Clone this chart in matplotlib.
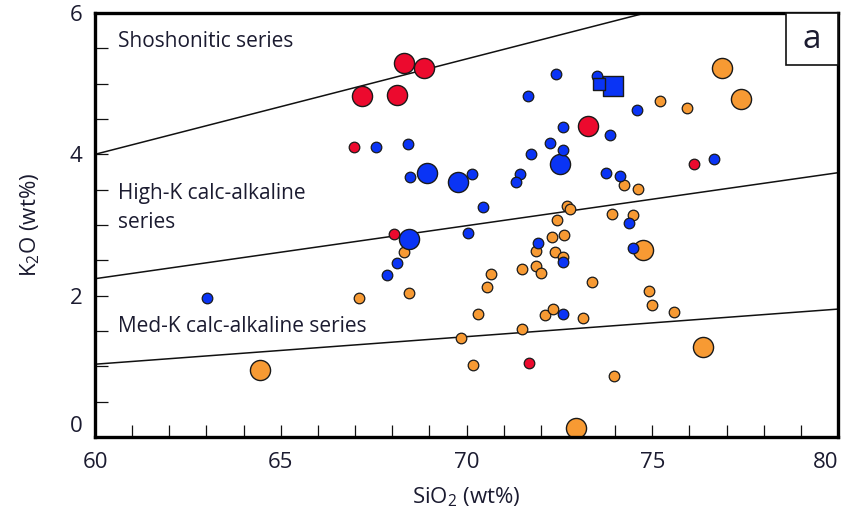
import matplotlib
matplotlib.use("Agg")
import matplotlib.pyplot as plt
from matplotlib.ticker import MultipleLocator
from matplotlib.patches import Rectangle

# ---- data (SiO2 wt%, K2O wt%) ----
orange_small_x = [75.21, 75.94, 74.24, 74.62, 72.71, 72.79, 73.92, 74.48, 72.44, 72.30,
                  72.62, 68.32, 71.87, 72.38, 72.60, 70.66, 71.49, 71.87, 72.01, 70.55,
                  73.38, 67.11, 68.45, 70.31, 72.11, 72.33, 73.14, 71.49, 69.85, 70.17,
                  73.97, 74.91, 74.99, 75.59]
orange_small_y = [4.75, 4.66, 3.57, 3.51, 3.27, 3.23, 3.16, 3.14, 3.07, 2.83,
                  2.86, 2.62, 2.63, 2.62, 2.55, 2.31, 2.38, 2.42, 2.32, 2.12,
                  2.19, 1.97, 2.04, 1.74, 1.73, 1.81, 1.68, 1.53, 1.40, 1.02,
                  0.86, 2.07, 1.87, 1.77]
orange_large_x = [76.88, 77.39, 74.75, 76.37, 64.44, 72.95]
orange_large_y = [5.22, 4.78, 2.65, 1.27, 0.95, 0.13]

red_small_x = [66.97, 68.05, 71.68, 76.12]
red_small_y = [4.10, 2.87, 1.05, 3.86]
red_large_x = [68.32, 68.86, 67.19, 68.13, 73.27]
red_large_y = [5.29, 5.22, 4.83, 4.84, 4.40]

blue_small_x = [67.56, 68.43, 72.41, 71.66, 73.51, 72.60, 73.86, 72.25, 72.60, 71.74,
                68.48, 70.15, 71.44, 71.33, 73.76, 74.13, 70.44, 74.59, 76.66, 74.37,
                70.04, 71.92, 72.60, 68.13, 67.86, 72.60, 74.48, 63.01]
blue_small_y = [4.10, 4.15, 5.14, 4.83, 5.11, 4.39, 4.27, 4.16, 4.06, 4.00,
                3.68, 3.72, 3.72, 3.61, 3.74, 3.69, 3.25, 4.63, 3.93, 3.03,
                2.89, 2.75, 2.48, 2.46, 2.29, 1.74, 2.67, 1.97]
blue_large_x = [68.94, 69.77, 72.52, 68.45]
blue_large_y = [3.74, 3.61, 3.86, 2.80]

square_large_x = [73.94]
square_large_y = [4.97]
square_small_x = [73.57]
square_small_y = [5.00]

# series boundary lines (SiO2 endpoints, K2O endpoints)
shosh_x, shosh_y = [60, 80], [4.00, 6.70]
highk_x, highk_y = [60, 80], [2.24, 3.74]
medk_x, medk_y = [60, 80], [1.03, 1.81]

xticks = [60, 65, 70, 75, 80]
yticks = [0, 2, 4, 6]

# ---- style ----
ORANGE = "#F79A33"
RED = "#EC0A2E"
BLUE = "#0A34F5"
EDGE = "#1a1a1a"
TXT = "#1b1b30"

plt.rcParams['font.family'] = ['Open Sans', 'DejaVu Sans']
plt.rcParams['mathtext.fontset'] = 'custom'
plt.rcParams['mathtext.rm'] = 'Open Sans'
plt.rcParams['mathtext.it'] = 'Open Sans:italic'
plt.rcParams['mathtext.bf'] = 'Open Sans:bold'

fig = plt.figure(figsize=(8.44, 5.09), dpi=100)
ax = fig.add_axes([95/844, 1-437/509, 743/844, 424/509])

S_SMALL = 58
S_LARGE = 210

for xs, ys in [(shosh_x, shosh_y), (highk_x, highk_y), (medk_x, medk_y)]:
    ax.plot(xs, ys, color="#111111", lw=1.1, zorder=1)

ax.scatter(orange_large_x, orange_large_y, s=S_LARGE, c=ORANGE, edgecolors=EDGE, linewidths=1.0, zorder=2)
ax.scatter(orange_small_x, orange_small_y, s=S_SMALL, c=ORANGE, edgecolors=EDGE, linewidths=0.9, zorder=2)
ax.scatter(red_large_x, red_large_y, s=S_LARGE, c=RED, edgecolors=EDGE, linewidths=1.0, zorder=3)
ax.scatter(red_small_x, red_small_y, s=S_SMALL, c=RED, edgecolors=EDGE, linewidths=0.9, zorder=3)
ax.scatter(blue_large_x, blue_large_y, s=S_LARGE, c=BLUE, edgecolors=EDGE, linewidths=1.0, zorder=4)
ax.scatter(blue_small_x, blue_small_y, s=S_SMALL, c=BLUE, edgecolors=EDGE, linewidths=0.9, zorder=4)
ax.scatter(square_large_x, square_large_y, s=200, marker='s', c=BLUE, edgecolors=EDGE, linewidths=1.0, zorder=5)
ax.scatter(square_small_x, square_small_y, s=75, marker='s', c=BLUE, edgecolors=EDGE, linewidths=1.0, zorder=6)

ax.set_xlim(60, 80)
ax.set_ylim(0, 6)

ax.set_xticks(xticks)
ax.set_yticks(yticks)
ax.xaxis.set_minor_locator(MultipleLocator(1))
ax.yaxis.set_minor_locator(MultipleLocator(0.5))
ax.tick_params(which='both', direction='in', length=9, width=0.9, color="#111111",
               top=False, right=False)
ax.tick_params(axis='x', which='major', labelsize=16, labelcolor=TXT, pad=11)
ax.tick_params(axis='y', which='major', labelsize=16, labelcolor=TXT, pad=9)

for sp in ax.spines.values():
    sp.set_linewidth(2.4)
    sp.set_color("#000000")

# last x label sits inside the frame, first y label sits above the axis
ax.get_xticklabels()[-1].set_horizontalalignment('right')
ax.get_yticklabels()[0].set_verticalalignment('bottom')

ax.set_xlabel("SiO$_2$ (wt%)", fontsize=16, color=TXT, labelpad=9)
ax.set_ylabel("K$_2$O (wt%)", fontsize=16, color=TXT, labelpad=20)

# series labels
ax.text(60.62, 5.59, "Shoshonitic series", fontsize=15, color=TXT, va='center', ha='left', zorder=7)
ax.text(60.62, 3.45, "High-K calc-alkaline", fontsize=15, color=TXT, va='center', ha='left', zorder=7)
ax.text(60.62, 3.04, "series", fontsize=15, color=TXT, va='center', ha='left', zorder=7)
ax.text(60.62, 1.56, "Med-K calc-alkaline series", fontsize=15, color=TXT, va='center', ha='left', zorder=7)

# panel label box
ax.add_patch(Rectangle((0.930, 0.877), 0.070, 0.123, transform=ax.transAxes,
                       facecolor='white', edgecolor='#111111', lw=1.2, zorder=8, clip_on=False))
ax.text(0.965, 0.9385, "a", transform=ax.transAxes, fontsize=24, color=TXT,
        ha='center', va='center', zorder=9)

fig.savefig("out.png", dpi=100)
